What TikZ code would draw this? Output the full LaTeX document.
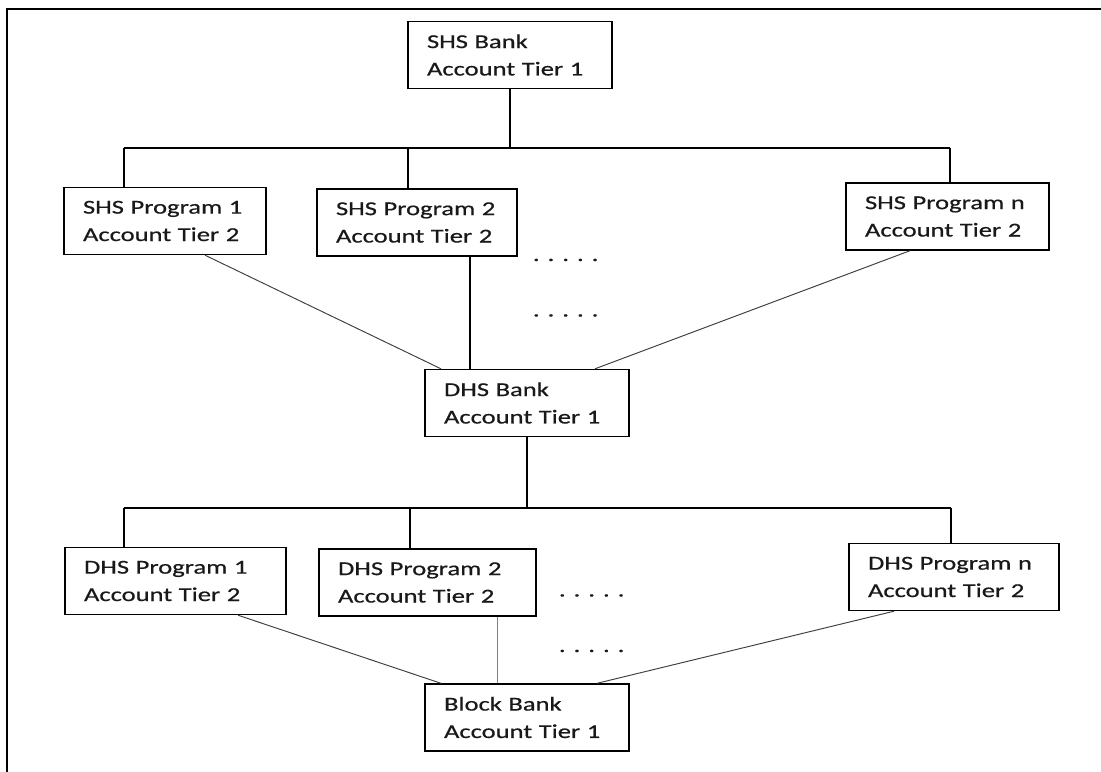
\documentclass[tikz,border=0pt]{standalone}
\usepackage{fontspec}
\setmainfont{Carlito}[FakeStretch=1.35, FakeBold=0.6]
\usetikzlibrary{positioning}

\begin{document}
\begin{tikzpicture}[
  x=0.02cm, y=-0.02cm,
  every node/.style={font=\fontsize{11.2pt}{15.6pt}\selectfont, text=black!90},
  acct/.style={draw, line width=0.8pt, rectangle, align=left,
    minimum height=1.34cm, inner xsep=0.38cm, inner ysep=0pt, text width=#1},
  acct/.default=3.28cm,
  more/.style={anchor=base west, inner sep=0pt},
  frame/.style={line width=1.2pt},
  tree/.style={line width=0.7pt},
  spoke/.style={line width=0.55pt, draw=black!75}
]
\useasboundingbox (0,0) rectangle (1101,771);
\draw[frame] (7,9) rectangle (1130,800);

% Nodes
\node[acct=3.32cm] (shsbank) at (510,55) {SHS Bank\\Account Tier 1};
\node[acct=3.28cm] (p1) at (165,221) {SHS Program 1\\Account Tier 2};
\node[acct=3.24cm] (p2) at (417,222.5) {SHS Program 2\\Account Tier 2};
\node[acct=3.30cm] (pn) at (947.5,216.5) {SHS Program n\\Account Tier 2};
\node[acct=3.32cm] (dhsbank) at (527,403) {DHS Bank\\Account Tier 1};
\node[acct=3.66cm] (dp1) at (175.5,581) {DHS Program 1\\Account Tier 2};
\node[acct=3.58cm] (dp2) at (427.5,582.5) {DHS Program 2\\Account Tier 2};
\node[acct=3.44cm] (dpn) at (954,577) {DHS Program n\\Account Tier 2};
\node[acct=3.32cm] (blockbank) at (527,717.5) {Block Bank\\Account Tier 1};

% Ellipses
\node[more] (moreA) at (532.6,261) {. . . . .};
\node[more] (moreB) at (532.6,316.5) {. . . . .};
\node[more] (moreC) at (558.6,596.5) {. . . . .};
\node[more] (moreD) at (558.6,652) {. . . . .};

% SHS tier 1 to tier 2
\coordinate (busA1) at (124,148);
\coordinate (busA2) at (408,148);
\coordinate (busA3) at (950,148);
\draw[tree] (shsbank.south) -- (shsbank.south |- busA1);
\draw[tree] (busA1) -- (busA3);
\draw[tree] (busA1) -- (busA1 |- p1.north);
\draw[tree] (busA2) -- (busA2 |- p2.north);
\draw[tree] (busA3) -- (busA3 |- pn.north);

% SHS tier 2 to DHS bank
\draw[spoke] (p1.south -| 205,0) -- (dhsbank.north -| 441,0);
\draw[tree] (p2.south -| 470,0) -- (dhsbank.north -| 470,0);
\draw[spoke] (pn.south -| 910,0) -- (dhsbank.north -| 595,0);

% DHS tier 1 to tier 2
\coordinate (busB1) at (124,508);
\coordinate (busB2) at (410,508);
\coordinate (busB3) at (951,508);
\draw[tree] (dhsbank.south) -- (dhsbank.south |- busB1);
\draw[tree] (busB1) -- (busB3);
\draw[tree] (busB1) -- (busB1 |- dp1.north);
\draw[tree] (busB2) -- (busB2 |- dp2.north);
\draw[tree] (busB3) -- (busB3 |- dpn.north);

% DHS tier 2 to block bank
\draw[spoke] (dp1.south -| 238,0) -- (blockbank.north -| 441,0);
\draw[spoke, draw=black!50] (dp2.south -| 497,0) -- (blockbank.north -| 497,0);
\draw[spoke] (dpn.south -| 894,0) -- (blockbank.north -| 597,0);

\end{tikzpicture}
\end{document}
